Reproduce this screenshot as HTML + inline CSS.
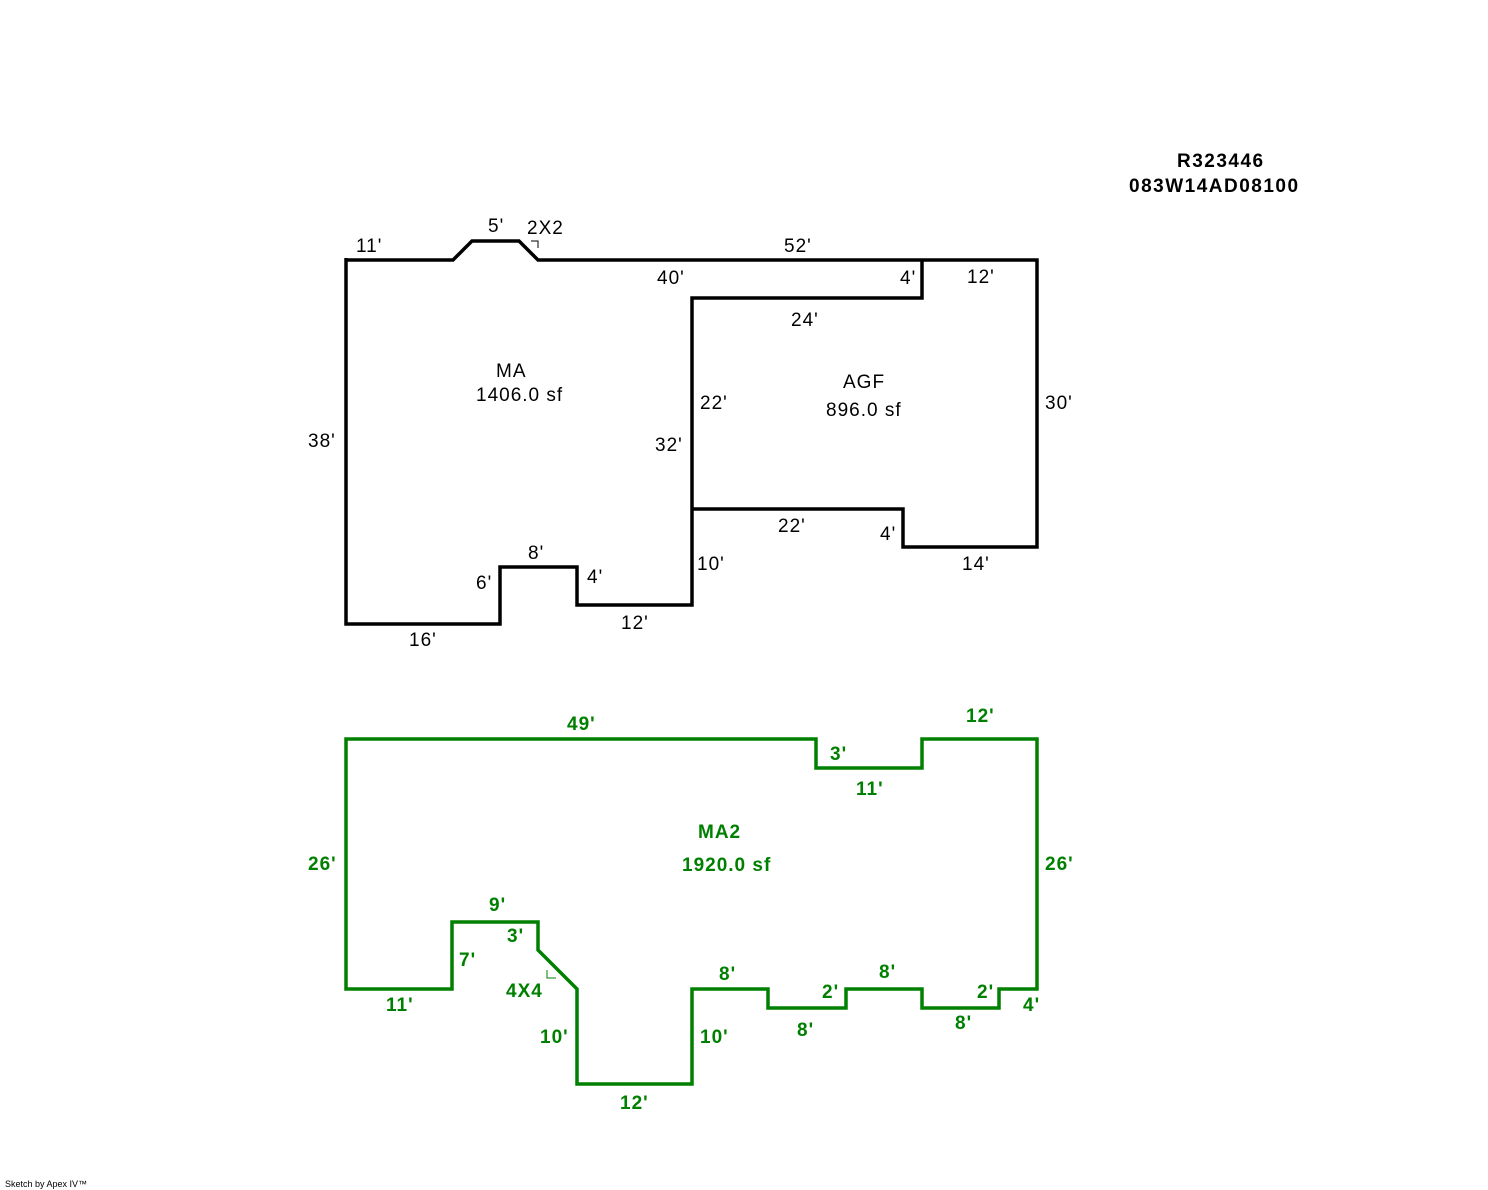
<!DOCTYPE html>
<html><head><style>body{margin:0;background:#fff}</style></head><body>
<svg width="1488" height="1190" xmlns="http://www.w3.org/2000/svg" style="display:block;font-family:'Liberation Sans',Arial,sans-serif">
<g fill="none" stroke="#000" stroke-width="3.5" stroke-linejoin="miter">
<path d="M346,260 L453,260 L472,241 L519,241 L538,260 L1037,260 L1037,547 L903,547 L903,509 L692,509"/>
<path d="M922,260 L922,298 L692,298 L692,605 L577,605 L577,567 L500,567 L500,624 L346,624 L346,258"/>
</g>
<path d="M531,241 L538,241 L538,248" fill="none" stroke="#000" stroke-width="1"/>
<g font-size="19" fill="#000" letter-spacing="1">
<text x="356" y="252">11'</text><text x="488" y="232">5'</text><text x="527" y="234">2X2</text>
<text x="784" y="252">52'</text><text x="657" y="284">40'</text><text x="900" y="284">4'</text>
<text x="967" y="283">12'</text><text x="791" y="326">24'</text>
<text x="496" y="377">MA</text><text x="476" y="401">1406.0 sf</text>
<text x="843" y="388">AGF</text><text x="826" y="416">896.0 sf</text>
<text x="308" y="447">38'</text><text x="700" y="409">22'</text><text x="655" y="451">32'</text>
<text x="1045" y="409">30'</text><text x="778" y="532">22'</text><text x="880" y="540">4'</text>
<text x="962" y="570">14'</text><text x="697" y="570">10'</text><text x="528" y="559">8'</text>
<text x="476" y="589">6'</text><text x="587" y="583">4'</text><text x="621" y="629">12'</text>
<text x="409" y="646">16'</text>
</g>
<g font-size="19" font-weight="bold" fill="#000" letter-spacing="1.5">
<text x="1177" y="167">R323446</text><text x="1129" y="192">083W14AD08100</text>
</g>
<path d="M346,739 L816,739 L816,768 L922,768 L922,739 L1037,739 L1037,989 L999,989 L999,1008 L922,1008 L922,989 L846,989 L846,1008 L768,1008 L768,989 L692,989 L692,1084 L577,1084 L577,989 L538,950 L538,922 L452,922 L452,989 L346,989 Z" fill="none" stroke="#008000" stroke-width="3.5"/>
<path d="M547,970 L547,978 L556,978" fill="none" stroke="#008000" stroke-width="1"/>
<g font-size="19" font-weight="bold" fill="#008000" letter-spacing="1">
<text x="567" y="730">49'</text><text x="830" y="760">3'</text><text x="966" y="722">12'</text>
<text x="856" y="795">11'</text><text x="698" y="838">MA2</text><text x="682" y="871">1920.0 sf</text>
<text x="308" y="870">26'</text><text x="1045" y="870">26'</text>
<text x="489" y="911">9'</text><text x="507" y="942">3'</text><text x="459" y="966">7'</text>
<text x="506" y="997">4X4</text><text x="386" y="1011">11'</text><text x="540" y="1043">10'</text>
<text x="700" y="1043">10'</text><text x="620" y="1109">12'</text><text x="719" y="980">8'</text>
<text x="822" y="998">2'</text><text x="879" y="978">8'</text><text x="797" y="1036">8'</text>
<text x="977" y="998">2'</text><text x="955" y="1029">8'</text><text x="1023" y="1011">4'</text>
</g>
<text x="5" y="1187" font-size="9" fill="#000">Sketch by Apex IV™</text>
</svg>
</body></html>
